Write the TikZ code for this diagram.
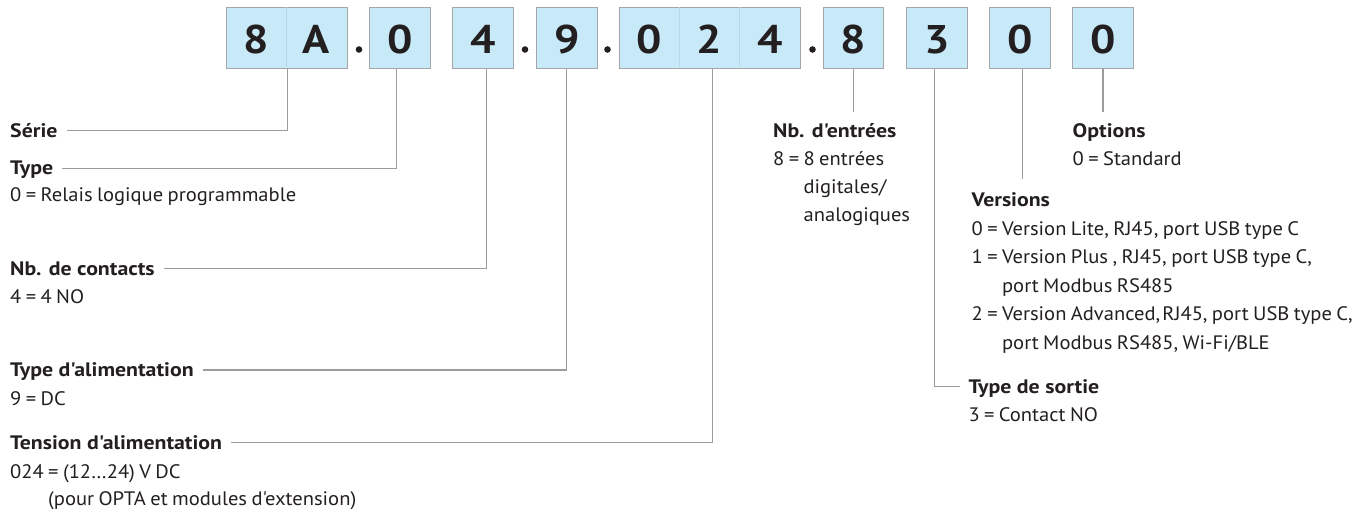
\documentclass[tikz,border=0pt]{standalone}
\usepackage{fontspec}
\setmainfont{PT Sans}[Ligatures=TeXOff]
\newfontfamily\regfont{PT Sans}[FakeStretch=1.055, Ligatures=TeXOff]
\newfontfamily\boldfont{PT Sans}[FakeStretch=1.12, Ligatures=TeXOff]
\newcommand{\tightspace}{\spaceskip 4.4pt\relax}
\definecolor{boxfill}{HTML}{C8E9F8}
\definecolor{boxline}{HTML}{A3A6A9}
\definecolor{cellline}{HTML}{B9D8E6}
\definecolor{conncol}{HTML}{9C9C9C}
\definecolor{txt}{HTML}{231F20}
\tikzset{
  codebox/.style={draw=boxline, fill=boxfill, line width=1pt, minimum height=61pt, inner sep=0pt, anchor=north west},
  digit/.style={anchor=base, inner sep=0pt, text=txt, font=\boldfont\fontsize{40}{40}\selectfont\bfseries},
  conn/.style={draw=conncol, line width=1.2pt},
  lab/.style={anchor=base west, inner sep=0pt, text=txt, font=\boldfont\fontsize{19.5}{19.5}\selectfont\bfseries, text height=13.6pt, text depth=0pt},
  desc/.style={anchor=base west, inner sep=0pt, text=txt, font={\regfont\fontsize{19.5}{19.5}\selectfont\tightspace}},
}
\begin{document}
\begin{tikzpicture}[x=1pt,y=-1pt]
\useasboundingbox (0,0) rectangle (1363,516);
% code boxes
\node[codebox, minimum width=121pt] (bS) at (225.7,7) {};
\node[codebox, minimum width=61pt] (bT) at (369,7) {};
\node[codebox, minimum width=61pt] (bC) at (452,7) {};
\node[codebox, minimum width=61pt] (bA) at (535.7,7) {};
\node[codebox, minimum width=181pt] (bV) at (619,7) {};
\node[codebox, minimum width=60pt] (bE) at (823,7) {};
\node[codebox, minimum width=61pt] (bO) at (905.7,7) {};
\node[codebox, minimum width=61pt] (bVer) at (989,7) {};
\node[codebox, minimum width=61pt] (bOpt) at (1072,7) {};
% cell dividers
\draw[cellline, line width=0.8pt] (286.2,7.5) -- (286.2,67.5);
\draw[cellline, line width=0.8pt] (679.3,7.5) -- (679.3,67.5);
\draw[cellline, line width=0.8pt] (739.7,7.5) -- (739.7,67.5);
% digits
\node[digit] (d1) at (256.3,54) {8};
\node[digit] (d2) at (316.5,54) {A};
\node[digit] (d3) at (bT.center |- 0,54) {0};
\node[digit] (d4) at (bC.center |- 0,54) {4};
\node[digit] (d5) at (bA.center |- 0,54) {9};
\node[digit] (d6) at (649.2,54) {0};
\node[digit] (d7) at (709.5,54) {2};
\node[digit] (d8) at (769.8,54) {4};
\node[digit] (d9) at (bE.center |- 0,54) {8};
\node[digit] (d10) at (bO.center |- 0,54) {3};
\node[digit] (d11) at (bVer.center |- 0,54) {0};
\node[digit] (d12) at (bOpt.center |- 0,54) {0};
% dots
\fill[txt] (359,49.5) circle (3.3);
\fill[txt] (525,49.5) circle (3.3);
\fill[txt] (607.5,49.5) circle (3.3);
\fill[txt] (812.5,49.5) circle (3.3);
% left labels
\node[lab] (lSerie) at (10,137.4) {Série};
\node[lab] (lType) at (10,175) {Type};
\node[desc] (dType) at (10,201.7) {0 = Relais logique programmable};
\node[lab] (lCont) at (10,275.5) {Nb. de contacts};
\node[desc] (dCont) at (10,303.5) {4 = 4 NO};
\node[lab] (lAlim) at (10,376.7) {Type d'alimentation};
\node[desc] (dAlim) at (10,405.5) {9 = DC};
\node[lab] (lTens) at (10,449.5) {Tension d'alimentation};
\node[desc] (dTens) at (10,478.3) {024 = (12…24) V DC};
\node[desc] (dTens2) at (48,505.5) {(pour OPTA et modules d'extension)};
% right labels
\node[lab] (lEntr) at (773,137.7) {Nb. d'entrées};
\node[desc] (dEntr1) at (773,166) {8 = 8 entrées};
\node[desc] (dEntr2) at (773,193.5) {\phantom{8 = }digitales/};
\node[desc] (dEntr3) at (773,221) {\phantom{8 = }analogiques};
\node[lab] (lOpt) at (1072.5,137.7) {Options};
\node[desc] (dOpt) at (1072.5,166) {0 = Standard};
\node[lab] (lVer) at (971.5,206.7) {Versions};
\node[desc] (dVer1) at (971.5,235) {0 = Version Lite, RJ45, port USB type C};
\node[desc] (dVer2) at (971.5,263.5) {1 = Version Plus , RJ45, port USB type C,};
\node[desc] (dVer3) at (971.5,292.2) {\phantom{1 = }port Modbus RS485};
\node[desc] (dVer4) at (971.5,320.7) {2 = Version Advanced,\kern2pt RJ45, port USB type C,};
\node[desc] (dVer5) at (971.5,349.4) {\phantom{2 = }port Modbus RS485, Wi-Fi/BLE};
\node[lab] (lSort) at (968.3,393.4) {Type de sortie};
\node[desc] (dSort) at (968.3,421.7) {3 = Contact NO};
% free ends
\coordinate (eE) at ([xshift=0.3pt]bE.south |- 0,111.7);
\coordinate (eVer) at ([xshift=2.2pt]bVer.south |- 0,179);
\coordinate (eOpt) at (bOpt.south |- 0,111.7);
% connectors
\draw[conn] ([xshift=0.8pt]bS.south) |- ([xshift=9pt]lSerie.east);
\draw[conn] ([xshift=-3.8pt]bT.south) |- ([xshift=9pt]lType.east);
\draw[conn] ([xshift=3.2pt]bC.south) |- ([xshift=9pt]lCont.east);
\draw[conn] ([xshift=-0.5pt]bA.south) |- ([xshift=9pt]lAlim.east);
\draw[conn] ([xshift=2.8pt]bV.south) |- ([xshift=9pt]lTens.east);
\draw[conn] ([xshift=0.3pt]bE.south) -- (eE);
\draw[conn] ([xshift=-1.9pt]bO.south) |- ([xshift=-8pt]lSort.west);
\draw[conn] ([xshift=2.2pt]bVer.south) -- (eVer);
\draw[conn] (bOpt.south) -- (eOpt);
\end{tikzpicture}
\end{document}
